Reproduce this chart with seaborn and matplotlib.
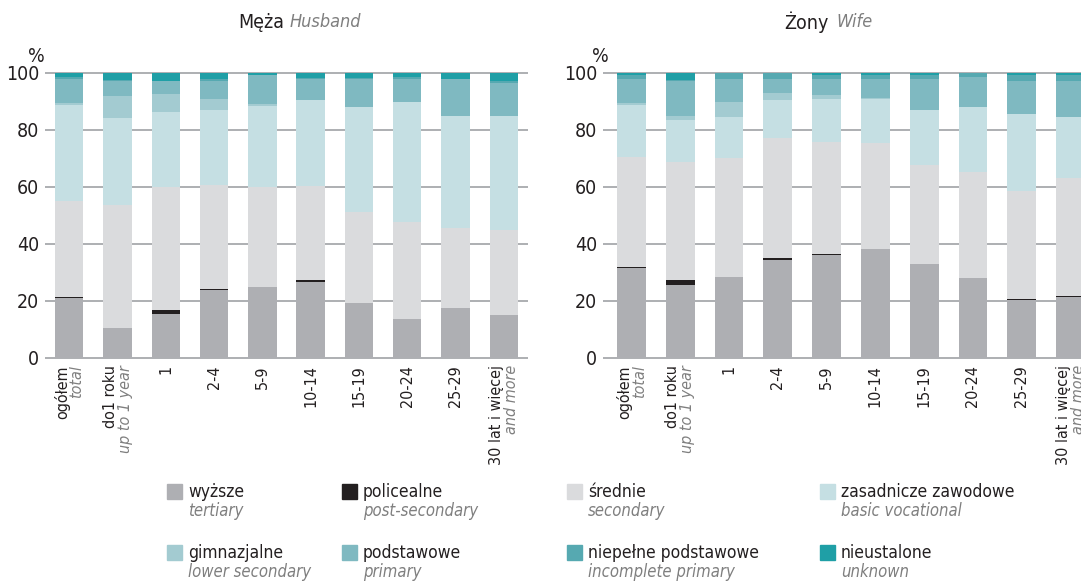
import numpy as np
import pandas as pd
import matplotlib
matplotlib.use("Agg")
import matplotlib.pyplot as plt
from matplotlib.patches import Rectangle
import seaborn as sns

# Categories (duration of marriage)
categories_pl = ["ogółem", "do1 roku", "1", "2-4", "5-9", "10-14",
                 "15-19", "20-24", "25-29", "30 lat i więcej"]
categories_en = ["total", "up to 1 year", "", "", "", "", "", "", "", "and more"]

levels_pl = ["wyższe", "policealne", "średnie", "zasadnicze zawodowe",
             "gimnazjalne", "podstawowe", "niepełne podstawowe", "nieustalone"]
levels_en = ["tertiary", "post-secondary", "secondary", "basic vocational",
             "lower secondary", "primary", "incomplete primary", "unknown"]
colors = ["#aeafb3", "#231f20", "#dadbdd", "#c5dfe3",
          "#a3cbd1", "#7fb9c1", "#56a9b1", "#1f9fa6"]

# Husband (%)
tertiary_h   = [21.0, 10.6, 15.6, 23.7, 25.0, 26.5, 19.4, 13.5, 17.7, 15.0]
post_h       = [0.3, 0.0, 1.4, 0.4, 0.0, 0.8, 0.0, 0.0, 0.0, 0.2]
secondary_h  = [33.6, 43.2, 42.9, 36.7, 34.9, 32.9, 31.9, 34.2, 28.0, 29.8]
vocational_h = [33.8, 30.5, 26.5, 26.3, 28.4, 30.4, 36.9, 42.2, 39.3, 40.0]
lowersec_h   = [0.9, 7.7, 6.3, 3.9, 0.7, 0.0, 0.0, 0.0, 0.0, 0.0]
primary_h    = [8.4, 5.3, 4.3, 6.1, 10.2, 7.4, 9.8, 8.1, 12.7, 11.3]
incomplete_h = [0.5, 0.1, 0.1, 0.8, 0.2, 0.2, 0.2, 0.7, 0.3, 0.7]
unknown_h    = [1.5, 2.6, 2.9, 2.1, 0.6, 1.8, 1.8, 1.3, 2.0, 3.0]

# Wife (%)
tertiary_w   = [31.5, 25.7, 28.5, 34.5, 36.0, 38.4, 32.9, 28.0, 20.2, 21.3]
post_w       = [0.3, 1.8, 0.0, 0.7, 0.4, 0.0, 0.2, 0.2, 0.6, 0.6]
secondary_w  = [38.8, 41.4, 41.8, 41.9, 39.3, 37.0, 34.6, 37.2, 37.9, 41.4]
vocational_w = [18.3, 14.7, 14.4, 13.5, 15.3, 15.6, 19.4, 22.8, 27.0, 21.4]
lowersec_w   = [0.7, 1.4, 5.2, 2.5, 1.4, 0.3, 0.0, 0.0, 0.0, 0.0]
primary_w    = [8.4, 12.3, 8.1, 4.9, 5.3, 6.7, 10.9, 10.2, 11.6, 12.3]
incomplete_w = [1.4, 0.1, 1.8, 1.8, 1.7, 1.4, 1.1, 1.4, 1.8, 2.1]
unknown_w    = [0.6, 2.6, 0.2, 0.2, 0.6, 0.6, 0.9, 0.2, 0.9, 0.9]

husband = [tertiary_h, post_h, secondary_h, vocational_h,
           lowersec_h, primary_h, incomplete_h, unknown_h]
wife = [tertiary_w, post_w, secondary_w, vocational_w,
        lowersec_w, primary_w, incomplete_w, unknown_w]

sns.set_theme(style="white")
plt.rcParams["font.family"] = ["DejaVu Sans"]
plt.rcParams["font.stretch"] = "condensed"

DARK = "#231f20"
GREY_TXT = "#7f7f7f"
GRID = "#a7a9ac"

W, H = 1081, 587
fig = plt.figure(figsize=(W / 100, H / 100), dpi=100)


def px(x, y):
    return x / W, 1 - y / H


def draw_panel(ax, data, xlim):
    df = pd.DataFrame(np.array(data).T, columns=levels_pl)
    df["cat"] = categories_pl
    cum = df[levels_pl].cumsum(axis=1)
    # draw tallest stack first, shorter ones over it
    for lev, col in reversed(list(zip(levels_pl, colors))):
        sns.barplot(x=df["cat"], y=cum[lev], color=col, saturation=1,
                    width=0.59, linewidth=0, errorbar=None, ax=ax)
    ax.set_ylim(-0.5, 100.5)
    ax.set_xlim(*xlim)
    ax.set_yticks(range(0, 101, 20))
    ax.yaxis.grid(True, color=GRID, lw=1.3)
    ax.xaxis.grid(False)
    ax.set_axisbelow(True)
    for s in ax.spines.values():
        s.set_visible(False)
    ax.set_xlabel("")
    ax.set_ylabel("")
    ax.set_xticks(range(len(categories_pl)))
    ax.set_xticklabels([])
    ax.tick_params(axis="both", length=0, pad=4, labelsize=14, labelcolor=DARK)
    tr = ax.get_xaxis_transform()
    for i, (pl, en) in enumerate(zip(categories_pl, categories_en)):
        if en:
            ax.text(i - 0.15, -0.02, pl, rotation=90, ha="center", va="top",
                    fontsize=11.5, color=DARK, transform=tr)
            ax.text(i + 0.16, -0.02, en, rotation=90, ha="center", va="top",
                    fontsize=11.5, color=GREY_TXT, style="italic", transform=tr)
        else:
            ax.text(i, -0.02, pl, rotation=90, ha="center", va="top",
                    fontsize=11.5, color=DARK, transform=tr)


bottom = (H - 359.4) / H
height = 287.9 / H

ax1 = fig.add_axes([45 / W, bottom, 483 / W, height])
draw_panel(ax1, husband, (-0.5, 9.5))
ax2 = fig.add_axes([603 / W, bottom, 492 / W, height])
draw_panel(ax2, wife, (-0.58, 9.5))

# Titles
fig.text(*px(284, 22), "Męża", ha="right", va="center", fontsize=14, color=DARK)
fig.text(*px(290, 22), "Husband", ha="left", va="center", fontsize=13,
         color=GREY_TXT, style="italic")
fig.text(*px(829, 22), "Żony", ha="right", va="center", fontsize=14, color=DARK)
fig.text(*px(836, 22), "Wife", ha="left", va="center", fontsize=13,
         color=GREY_TXT, style="italic")
fig.text(*px(36, 57), "%", ha="center", va="center", fontsize=14, color=DARK)
fig.text(*px(600, 57), "%", ha="center", va="center", fontsize=14, color=DARK)

# Legend (4 columns x 2 rows)
col_x = [167, 342, 567, 820]
row_y = [492, 553]
for k, (pl, en, col) in enumerate(zip(levels_pl, levels_en, colors)):
    r, c = divmod(k, 4)
    x0, y0 = col_x[c], row_y[r]
    fx, fy = px(x0, y0 + 7)
    fig.patches.append(Rectangle((fx, fy), 15 / W, 15 / H, color=col,
                                 transform=fig.transFigure, figure=fig))
    fig.text(*px(x0 + 21, y0), pl, ha="left", va="center", fontsize=12.5,
             color=DARK)
    fig.text(*px(x0 + 21, y0 + 19), en, ha="left", va="center", fontsize=12,
             color=GREY_TXT, style="italic")

fig.savefig("out.png", dpi=100)
